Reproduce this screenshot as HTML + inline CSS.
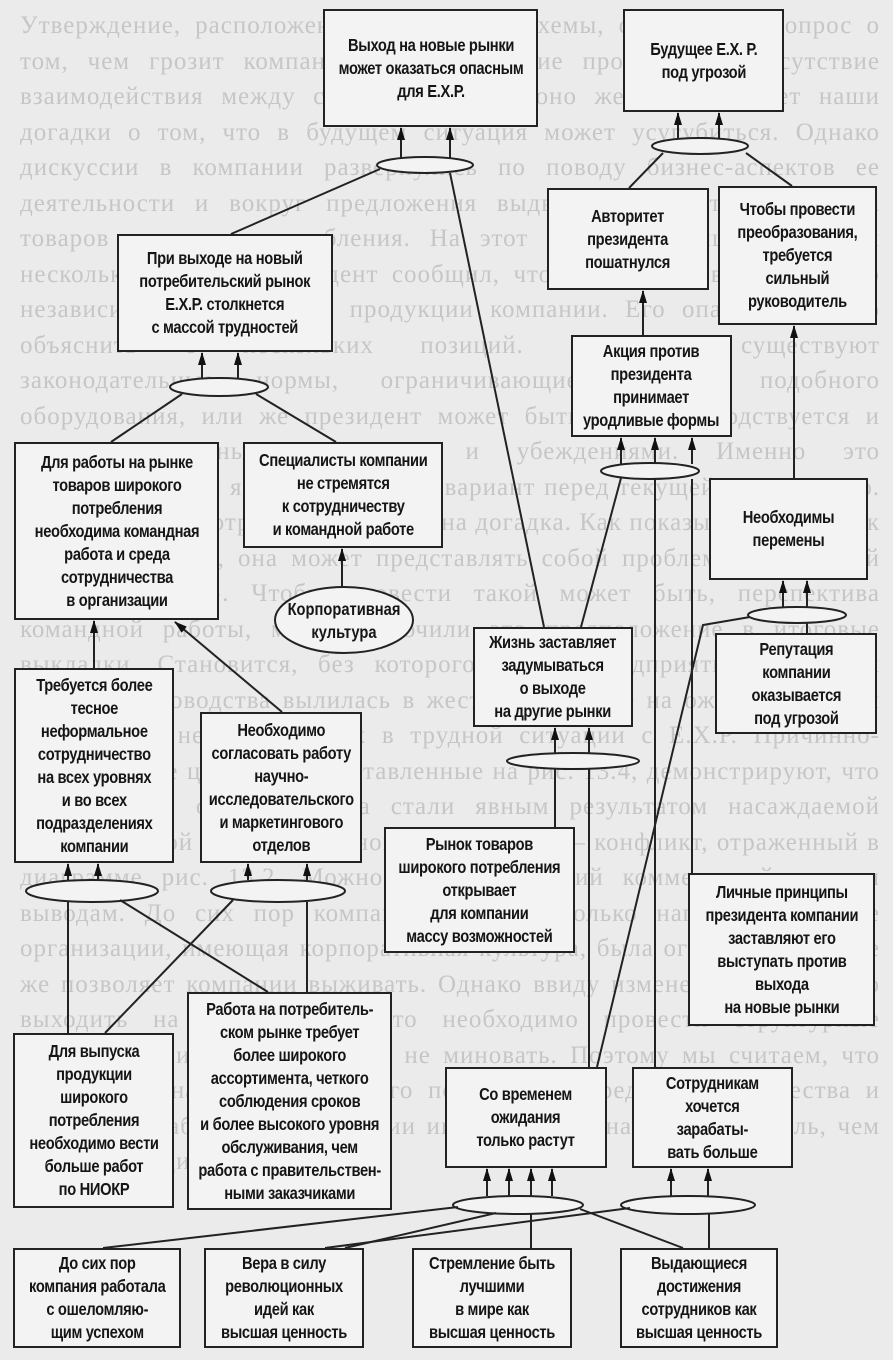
<!DOCTYPE html>
<html><head><meta charset="utf-8"><style>
html,body{margin:0;padding:0}
body{width:893px;height:1360px;background:#ebebeb;position:relative;overflow:hidden;font-family:"Liberation Sans","DejaVu Sans",sans-serif}
.bg{position:absolute;left:20px;top:8px;width:860px;font-family:"Liberation Serif",serif;font-size:25px;line-height:35.5px;color:#c6c6c6;text-align:justify;letter-spacing:1px}
.b{position:absolute;box-sizing:border-box;border:2px solid #222;background:#f3f3f3;display:flex;align-items:center;justify-content:center;text-align:center;font-size:17.5px;line-height:23px;color:#151515;white-space:nowrap;letter-spacing:-0.4px;font-weight:bold;}
.b span{display:inline-block;transform:scaleX(.84)}
svg{position:absolute;left:0;top:0}
</style></head><body>
<div class="bg">Утверждение, расположенное в вершине схемы, отвечает на вопрос о том, чем грозит компании рассогласование процессов и отсутствие взаимодействия между сотрудниками. И оно же подтверждает наши догадки о том, что в будущем ситуация может усугубиться. Однако дискуссии в компании развернулись по поводу бизнес-аспектов ее деятельности и вокруг предложения выдвинуться в сторону рынка товаров широкого потребления. На этот счет мы слышали с нами несколько мнений. Президент сообщил, что обеспокоен возможностью независимого применения продукции компании. Его опасения можно объяснить с нескольких позиций. Возможно, существуют законодательные нормы, ограничивающие продажу подобного оборудования, или же президент может быть, Боб руководствуется и какими-то личными мотивами и убеждениями. Именно это предположение и является главным вариант перед текущей реальностью. На схеме нашла отражение и еще одна догадка. Как показывает заголовок нашей компании, она может представлять собой проблему, от которой хотят «богатые». Чтобы провести такой может быть, перспектива командной работы, мы и включили это предположение в итоговые выкладки. Становится, без которого успеха предприятия и личных амбиций руководства вылилась в жесткое давление на ожидания, что и создавало в нешних рынках в трудной ситуации с Е.Х.Р. Причинно-следственные цепочки, представленные на рис. 13.4, демонстрируют, что сложившиеся обстоятельства стали явным результатом насаждаемой корпоративной культуры. Основная проблема — конфликт, отраженный в диаграмме рис. 13.2. Можно дать следующий комментарий к этим выводам. До сих пор компания работает только направлением, где организации, имеющая корпоративная культура, была ограничением, все же позволяет компании выживать. Однако ввиду изменения необходимо выходить на иные рынки, то необходимо провести структурные преобразования, иначе провала не миновать. Поэтому мы считаем, что для работы на рынке массового потребления среды сотрудничества и командной работы в организации играют более значительную роль, чем при ориентации только на</div>

<svg width="893" height="1360" viewBox="0 0 893 1360">
<defs><marker id="a" markerWidth="13" markerHeight="8" refX="12" refY="4" orient="auto" markerUnits="userSpaceOnUse" viewBox="0 0 13 8"><path d="M0,0 L13,4 L0,8 Z" fill="#111"/></marker></defs>
<g stroke="#222" stroke-width="2" fill="none">
<ellipse cx="425" cy="165" rx="48" ry="8" fill="#f3f3f3"/>
<ellipse cx="700" cy="146" rx="48" ry="8" fill="#f3f3f3"/>
<ellipse cx="219" cy="387" rx="49" ry="9" fill="#f3f3f3"/>
<ellipse cx="650" cy="471" rx="49" ry="8" fill="#f3f3f3"/>
<ellipse cx="797" cy="615" rx="49" ry="8" fill="#f3f3f3"/>
<ellipse cx="573" cy="761" rx="66" ry="8" fill="#f3f3f3"/>
<ellipse cx="92" cy="891" rx="66" ry="11" fill="#f3f3f3"/>
<ellipse cx="278" cy="891" rx="67" ry="11" fill="#f3f3f3"/>
<ellipse cx="518" cy="1205" rx="65" ry="9" fill="#f3f3f3"/>
<ellipse cx="688" cy="1205" rx="67" ry="9" fill="#f3f3f3"/>
<ellipse cx="344" cy="620" rx="69" ry="33" fill="#f3f3f3"/>
<g marker-end="url(#a)">
<line x1="401" y1="158" x2="401" y2="128"/><line x1="450" y1="158" x2="450" y2="128"/>
<line x1="678" y1="139" x2="678" y2="113"/><line x1="719" y1="139" x2="719" y2="113"/>
<line x1="202" y1="379" x2="202" y2="353"/><line x1="238" y1="379" x2="238" y2="353"/>
<line x1="643" y1="335" x2="643" y2="291"/>
<line x1="794" y1="478" x2="794" y2="326"/>
<line x1="621" y1="464" x2="621" y2="438"/><line x1="655" y1="463" x2="655" y2="438"/><line x1="692" y1="464" x2="692" y2="438"/>
<line x1="342" y1="587" x2="342" y2="549"/>
<line x1="94" y1="668" x2="94" y2="621"/>
<line x1="282" y1="712" x2="175" y2="622"/>
<line x1="783" y1="607" x2="783" y2="581"/><line x1="807" y1="607" x2="807" y2="581"/>
<line x1="555" y1="753" x2="555" y2="728"/><line x1="589" y1="753" x2="589" y2="728"/>
<line x1="68" y1="880" x2="68" y2="864"/><line x1="98" y1="880" x2="98" y2="864"/>
<line x1="248" y1="880" x2="248" y2="864"/><line x1="307" y1="880" x2="307" y2="864"/>
<line x1="487" y1="1196" x2="487" y2="1169"/><line x1="509" y1="1196" x2="509" y2="1169"/><line x1="531" y1="1196" x2="531" y2="1169"/><line x1="552" y1="1196" x2="552" y2="1169"/>
<line x1="671" y1="1196" x2="671" y2="1169"/><line x1="708" y1="1196" x2="708" y2="1169"/>
</g>
<line x1="380" y1="169" x2="231" y2="234"/>
<line x1="450" y1="173" x2="544" y2="627"/>
<line x1="182" y1="394" x2="111" y2="442"/><line x1="256" y1="394" x2="336" y2="442"/>
<line x1="663" y1="153" x2="629" y2="188"/><line x1="746" y1="153" x2="792" y2="186"/>
<line x1="621" y1="478" x2="581" y2="627"/>
<line x1="655" y1="479" x2="655" y2="1067"/>
<line x1="692" y1="479" x2="692" y2="873"/>
<line x1="807" y1="623" x2="807" y2="633"/>
<polyline points="750,617 703,625 597,1067"/>
<line x1="555" y1="769" x2="555" y2="827"/><line x1="589" y1="769" x2="589" y2="1067"/>
<line x1="68" y1="902" x2="68" y2="1033"/>
<line x1="120" y1="900" x2="268" y2="992"/>
<line x1="233" y1="900" x2="105" y2="1033"/>
<line x1="307" y1="902" x2="307" y2="992"/>
<line x1="103" y1="1248" x2="458" y2="1207"/>
<line x1="325" y1="1248" x2="630" y2="1208"/>
<line x1="345" y1="1248" x2="496" y2="1213"/>
<line x1="531" y1="1214" x2="531" y2="1248"/>
<line x1="683" y1="1248" x2="580" y2="1209"/>
<line x1="709" y1="1214" x2="709" y2="1248"/>
</g>
<text x="344" y="615" text-anchor="middle" font-family="Liberation Sans,sans-serif" font-size="17.5" font-weight="bold" fill="#151515" transform="translate(344 0) scale(.84 1) translate(-344 0)">Корпоративная</text>
<text x="344" y="638" text-anchor="middle" font-family="Liberation Sans,sans-serif" font-size="17.5" font-weight="bold" fill="#151515" transform="translate(344 0) scale(.84 1) translate(-344 0)">культура</text>
</svg>

<div class="b" style="left:323px;top:9px;width:215px;height:118px"><span>Выход на новые рынки<br>может оказаться опасным<br>для Е.Х.Р.</span></div>
<div class="b" style="left:623px;top:9px;width:161px;height:103px"><span>Будущее Е.Х. Р.<br>под угрозой</span></div>
<div class="b" style="left:117px;top:234px;width:216px;height:118px"><span>При выходе на новый<br>потребительский рынок<br>Е.Х.Р. столкнется<br>с массой трудностей</span></div>
<div class="b" style="left:547px;top:188px;width:162px;height:102px"><span>Авторитет<br>президента<br>пошатнулся</span></div>
<div class="b" style="left:718px;top:186px;width:159px;height:139px"><span>Чтобы провести<br>преобразования,<br>требуется<br>сильный<br>руководитель</span></div>
<div class="b" style="left:571px;top:335px;width:161px;height:102px"><span>Акция против<br>президента<br>принимает<br>уродливые формы</span></div>
<div class="b" style="left:14px;top:442px;width:205px;height:178px"><span>Для работы на рынке<br>товаров широкого<br>потребления<br>необходима командная<br>работа и среда<br>сотрудничества<br>в организации</span></div>
<div class="b" style="left:243px;top:442px;width:200px;height:106px"><span>Специалисты компании<br>не стремятся<br>к сотрудничеству<br>и командной работе</span></div>
<div class="b" style="left:709px;top:478px;width:159px;height:102px"><span>Необходимы<br>перемены</span></div>
<div class="b" style="left:473px;top:627px;width:160px;height:100px"><span>Жизнь заставляет<br>задумываться<br>о выходе<br>на другие рынки</span></div>
<div class="b" style="left:715px;top:633px;width:162px;height:101px"><span>Репутация<br>компании<br>оказывается<br>под угрозой</span></div>
<div class="b" style="left:14px;top:668px;width:160px;height:195px"><span>Требуется более<br>тесное<br>неформальное<br>сотрудничество<br>на всех уровнях<br>и во всех<br>подразделениях<br>компании</span></div>
<div class="b" style="left:200px;top:712px;width:162px;height:151px"><span>Необходимо<br>согласовать работу<br>научно-<br>исследовательского<br>и маркетингового<br>отделов</span></div>
<div class="b" style="left:384px;top:827px;width:191px;height:126px"><span>Рынок товаров<br>широкого потребления<br>открывает<br>для компании<br>массу возможностей</span></div>
<div class="b" style="left:688px;top:873px;width:187px;height:153px"><span>Личные принципы<br>президента компании<br>заставляют его<br>выступать против<br>выхода<br>на новые рынки</span></div>
<div class="b" style="left:187px;top:992px;width:205px;height:218px"><span>Работа на потребитель-<br>ском рынке требует<br>более широкого<br>ассортимента, четкого<br>соблюдения сроков<br>и более высокого уровня<br>обслуживания, чем<br>работа с правительствен-<br>ными заказчиками</span></div>
<div class="b" style="left:13px;top:1033px;width:161px;height:175px"><span>Для выпуска<br>продукции<br>широкого<br>потребления<br>необходимо вести<br>больше работ<br>по НИОКР</span></div>
<div class="b" style="left:445px;top:1067px;width:162px;height:101px"><span>Со временем<br>ожидания<br>только растут</span></div>
<div class="b" style="left:632px;top:1067px;width:161px;height:101px"><span>Сотрудникам<br>хочется<br>зарабаты-<br>вать больше</span></div>
<div class="b" style="left:13px;top:1248px;width:168px;height:100px"><span>До сих пор<br>компания работала<br>с ошеломляю-<br>щим успехом</span></div>
<div class="b" style="left:204px;top:1248px;width:160px;height:100px"><span>Вера в силу<br>революционных<br>идей как<br>высшая ценность</span></div>
<div class="b" style="left:412px;top:1248px;width:160px;height:100px"><span>Стремление быть<br>лучшими<br>в мире как<br>высшая ценность</span></div>
<div class="b" style="left:620px;top:1248px;width:158px;height:100px"><span>Выдающиеся<br>достижения<br>сотрудников как<br>высшая ценность</span></div>
</body></html>
